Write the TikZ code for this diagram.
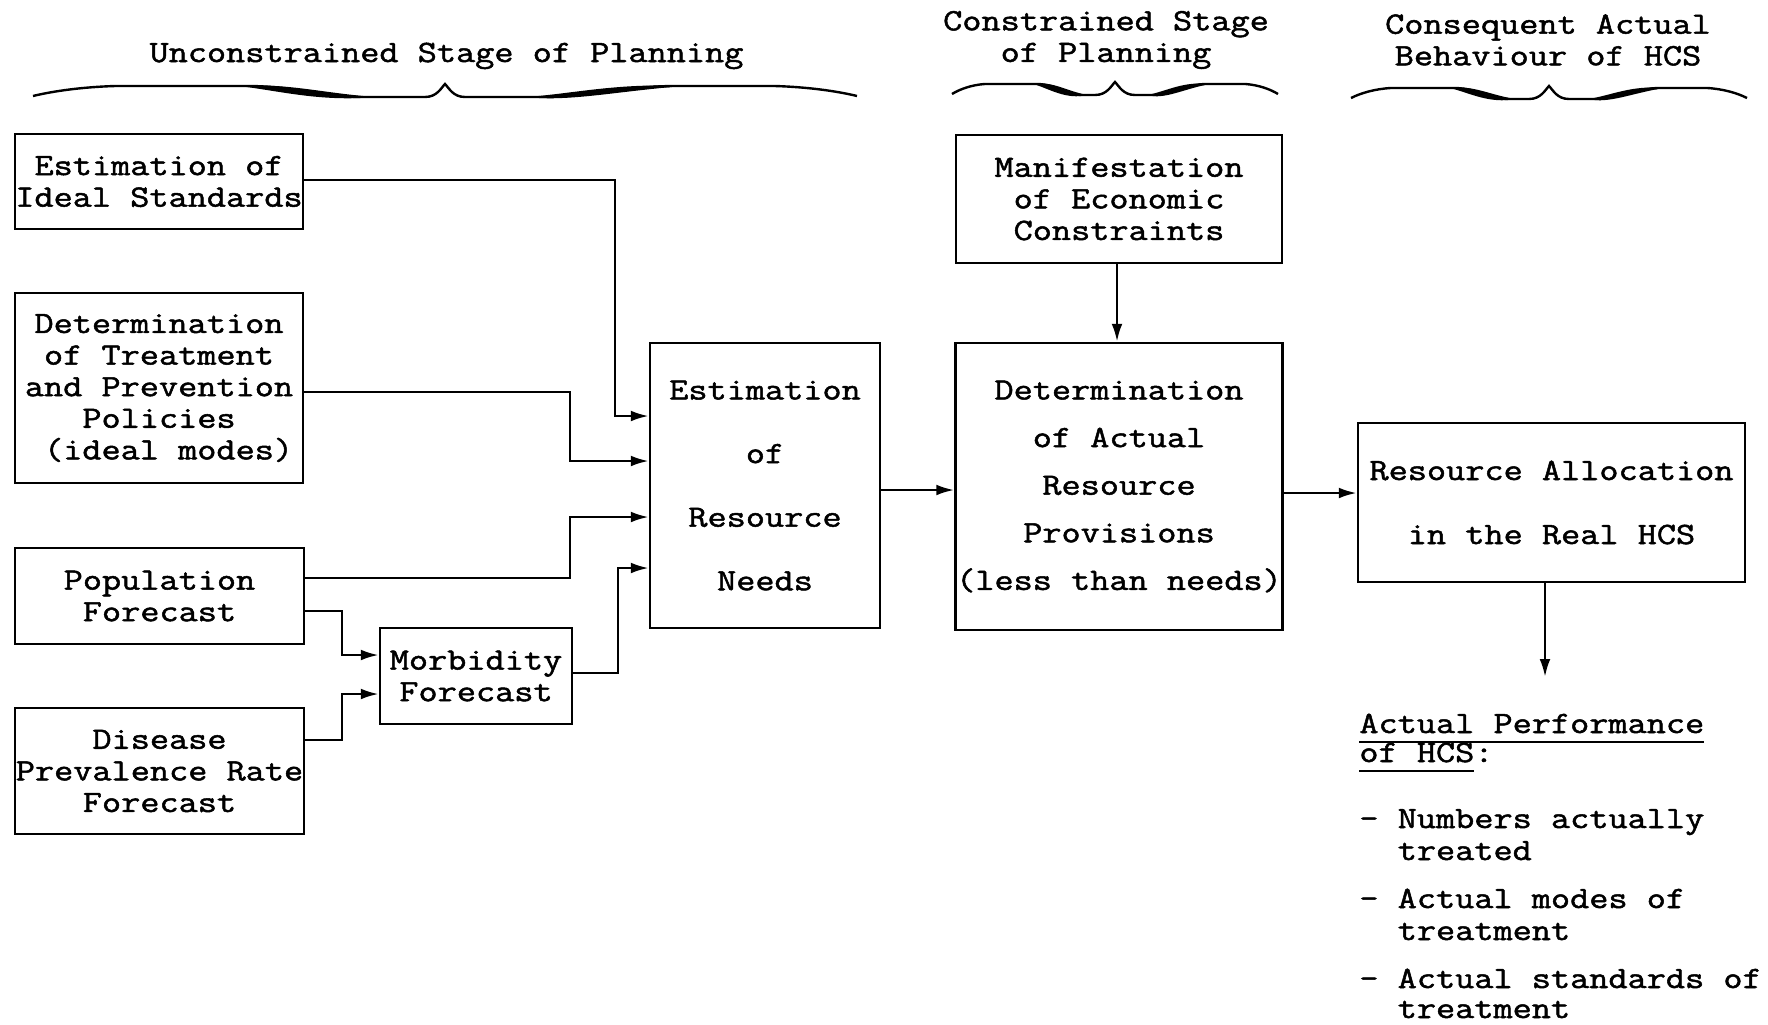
\documentclass[tikz,border=0pt]{standalone}
\usepackage{fontspec}
\setmonofont{Latin Modern Mono}[FakeBold=1.6,FakeStretch=1.2]
\usetikzlibrary{arrows.meta}
\newcommand\hcsul[1]{\setbox0\hbox{#1}\rlap{\rule[-5pt]{\wd0}{1.1pt}}\box0}
\newcommand\hcsbrace[3]{%
 \draw[line width=1.2pt] ({#1-#2},#3) .. controls ({#1-0.95*#2},{#3-5}) and ({#1-0.88*#2},{#3-9}) .. ({#1-0.8*#2},{#3-10})
   -- ({#1-0.47*#2},{#3-10}) .. controls ({#1-0.35*#2},{#3-9}) and ({#1-0.3*#2},{#3+1}) .. ({#1-0.2*#2},{#3+1})
   -- ({#1-20},{#3+1}) .. controls ({#1-8},{#3+1}) and ({#1-4},{#3-8}) .. (#1,{#3-12})
   .. controls ({#1+4},{#3-8}) and ({#1+8},{#3+1}) .. ({#1+20},{#3+1})
   -- ({#1+0.24*#2},{#3+1}) .. controls ({#1+0.34*#2},{#3+1}) and ({#1+0.42*#2},{#3-9}) .. ({#1+0.55*#2},{#3-10})
   -- ({#1+0.8*#2},{#3-10}) .. controls ({#1+0.88*#2},{#3-9}) and ({#1+0.95*#2},{#3-5}) .. ({#1+#2},#3);
 \fill ({#1-0.5*#2},{#3-10}) .. controls ({#1-0.38*#2},{#3-13}) and ({#1-0.3*#2},{#3-3}) .. ({#1-0.17*#2},{#3+1})
   .. controls ({#1-0.3*#2},{#3+6}) and ({#1-0.4*#2},{#3-5}) .. cycle;
 \fill ({#1+0.2*#2},{#3+1}) .. controls ({#1+0.3*#2},{#3+6}) and ({#1+0.42*#2},{#3-5}) .. ({#1+0.58*#2},{#3-10})
   .. controls ({#1+0.42*#2},{#3-13}) and ({#1+0.32*#2},{#3-3}) .. cycle;
}
\begin{document}
\begin{tikzpicture}[x=0.5pt,y=-0.5pt,
  every node/.style={font=\ttfamily\fontsize{15.5pt}{15.8pt}\selectfont},
  box/.style={draw,line width=1.2pt,inner sep=0pt,align=center},
  arr/.style={line width=1.3pt,-{Latex[length=9pt,width=5.4pt]}},
  lbl/.style={inner sep=0pt,anchor=base west}]
\fill[white] (0,0) rectangle (1768,1024);
\useasboundingbox (0,0) rectangle (1768,1024);

% headers and braces
\node[anchor=base,inner sep=0pt] (h1) at (446.5,62) {Unconstrained Stage of Planning};
\node[align=center,inner sep=0pt] (h2) at (1106,40) {Constrained Stage\\of Planning};
\node[align=center,inner sep=0pt] (h3) at (1548,40) {Consequent Actual\\Behaviour of HCS};
\hcsbrace{445}{412}{96}
\hcsbrace{1115}{163}{94}
\hcsbrace{1549}{198}{98}

% boxes
\node[box,minimum width=144pt,minimum height=47.5pt] (ideal) at (159,181.5) {Estimation of\\Ideal Standards};
\node[box,minimum width=144pt,minimum height=95pt] (treat) at (159,388) {Determination\\of Treatment\\and Prevention\\Policies\\\hphantom{x}(ideal modes)};
\node[box,minimum width=144.5pt,minimum height=48pt] (pop) at (159.5,596) {Population\\Forecast};
\node[box,minimum width=144.5pt,minimum height=63pt] (dis) at (159.5,771) {Disease\\Prevalence Rate\\Forecast};
\node[box,minimum width=96pt,minimum height=48pt] (morb) at (476,676) {Morbidity\\Forecast};
\node[box,minimum width=115pt,minimum height=142.5pt] (needs) at (765,485.5) {Estimation\\[16pt]of\\[16pt]Resource\\[16pt]Needs};
\node[box,minimum width=163pt,minimum height=64pt] (manif) at (1119,199) {Manifestation\\of Economic\\Constraints};
\node[box,minimum width=163.5pt,minimum height=143.5pt] (prov) at (1119,486.5) {Determination\\[8pt]of Actual\\[8pt]Resource\\[8pt]Provisions\\[8pt](less than needs)};
\node[box,minimum width=193.5pt,minimum height=79.5pt] (alloc) at (1551.5,502.5) {Resource Allocation\\[16.2pt]in the Real HCS};

% connectors
\draw[arr] (ideal.east |- 0,180) -| (615,416) -- (needs.west |- 0,416);
\draw[arr] (treat.east |- 0,392) -| (570,461) -- (needs.west |- 0,461);
\draw[arr] (pop.east |- 0,578) -| (570,517) -- (needs.west |- 0,517);
\draw[arr] (morb.east |- 0,673) -| (618,568) -- (needs.west |- 0,568);
\draw[arr] (pop.east |- 0,611) -| (342,655) -- (morb.west |- 0,655);
\draw[arr] (dis.east |- 0,740) -| (342,694) -- (morb.west |- 0,694);
\draw[arr] (needs.east |- 0,490) -- (prov.west |- 0,490);
\draw[arr] (prov.east |- 0,493) -- (alloc.west |- 0,493);
\draw[arr] (manif.south -| 1117,0) -- (prov.north -| 1117,0);
\coordinate (perf) at (1545,677);
\draw[arr] (alloc.south -| perf) -- (perf);

% performance text
\node[lbl] (p1) at (1359,733) {\hcsul{Actual Performance}};
\node[lbl] (p2) at (1359,762) {\hcsul{of HCS}:};
\node[lbl] (p3) at (1359,828) {- Numbers actually};
\node[lbl] (p4) at (1359,860) {\hphantom{xx}treated};
\node[lbl] (p5) at (1359,908) {- Actual modes of};
\node[lbl] (p6) at (1359,940) {\hphantom{xx}treatment};
\node[lbl] (p7) at (1359,988) {- Actual standards of};
\node[lbl] (p8) at (1359,1018) {\hphantom{xx}treatment};
\end{tikzpicture}
\end{document}
